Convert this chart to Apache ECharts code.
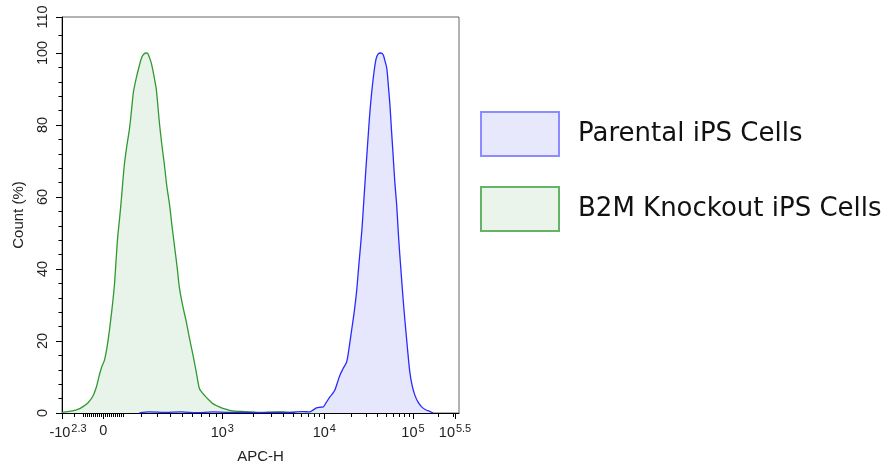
<!DOCTYPE html>
<html>
<head>
<meta charset="utf-8">
<script src="https://cdn.jsdelivr.net/npm/echarts@6/dist/echarts.min.js"></script>
<style>
  html, body { margin: 0; padding: 0; background: #fff; }
  #main { width: 892px; height: 469px; }
</style>
</head>
<body>
<div id="main"></div>
<script>
// x is in display channels (0..1000) of the biexponential APC-H scale
var parentalCh = [195, 220, 260, 300, 340, 380, 420, 460, 500, 540, 573, 590, 607, 624, 632, 641, 650, 658, 666, 675, 681, 687, 693, 700, 708, 717, 723, 729, 736, 742, 748, 755, 760, 765, 770, 775, 780, 786, 791, 796, 803, 809, 813, 818, 822, 826, 830, 834, 838, 843, 848, 854, 859, 864, 870, 876, 882, 889, 897, 906, 916, 927, 935];
var parentalPct = [0, 0.3, 0.2, 0.3, 0.1, 0.3, 0.2, 0.2, 0.1, 0.2, 0.1, 0.3, 0.4, 0.3, 0.8, 1.4, 1.6, 1.7, 3, 4.5, 5.3, 6.3, 8.2, 10.5, 12.3, 14.2, 18, 22.6, 28, 33.7, 41.5, 50.3, 58.5, 67, 75, 82.8, 89, 94.8, 98.3, 99.7, 100, 99.5, 98, 95.8, 91, 85.6, 78.5, 71.7, 64.7, 57.8, 48.5, 39.3, 32, 25.4, 18.2, 11.5, 7.6, 4.9, 3, 1.7, 0.9, 0.4, 0];

var knockoutCh = [0, 15, 27, 40, 52, 65, 77, 86, 94, 100, 107, 113, 119, 126, 132, 136, 140, 145, 149, 153, 157, 163, 170, 175, 180, 187, 195, 201, 207, 212, 216, 220, 225, 231, 237, 241, 245, 251, 258, 264, 271, 277, 283, 290, 296, 304, 313, 321, 330, 338, 346, 352, 359, 370, 380, 392, 405, 418, 430, 460, 500, 550, 600, 650];
var knockoutPct = [0.2, 0.4, 0.6, 1.0, 1.7, 2.8, 4.5, 7, 10.5, 12.8, 14.7, 18, 22.6, 29, 35.5, 42, 48.5, 54, 58.7, 64, 68.9, 74, 79, 84, 89.2, 93, 96.6, 98.8, 99.8, 100, 99.9, 98.8, 97.2, 94, 90.3, 86, 81, 75, 68.9, 63, 57.8, 52, 46.7, 40.5, 34.6, 29.8, 25.4, 20.8, 16.1, 11.5, 6.8, 5.8, 4.9, 3.6, 2.6, 1.9, 1.3, 0.9, 0.6, 0.4, 0.2, 0.3, 0.1, 0];

// major ticks of the x axis
var majorCh = [0, 104.2, 403.7, 660.6, 884, 990];
var majorBase = ['-10', '0', '10', '10', '10', '10'];
var majorExp = ['2.3', '', '3', '4', '5', '5.5'];

// minor ticks, in APC-H units
var minorValues = [-150, -100, -90, -80, -70, -60, -50, -40, -30, -20, -10,
  10, 20, 30, 40, 50, 60, 70, 80, 90, 100, 200, 300, 400, 500, 600, 700, 800, 900,
  2000, 3000, 4000, 5000, 6000, 7000, 8000, 9000,
  20000, 30000, 40000, 50000, 60000, 70000, 80000, 90000, 200000, 300000];

var yLabels = [0, 20, 40, 60, 80, 100, 110];
var yMinor = [4, 8, 12, 16, 24, 28, 32, 36, 44, 48, 52, 56, 64, 68, 72, 76, 84, 88, 92, 96, 105];

var decades = [[1e3, 403.7], [1e4, 660.6], [1e5, 884], [Math.pow(10, 5.5), 990]];
function toChannel(v) {
  if (v < 1000) return 104.2 + 161.3 * Math.asinh(v / 320);
  for (var i = 0; i < decades.length - 1; i++) {
    var a = decades[i], b = decades[i + 1];
    if (v <= b[0] || i === decades.length - 2) {
      var t = Math.log10(v / a[0]) / Math.log10(b[0] / a[0]);
      return a[1] + (b[1] - a[1]) * t;
    }
  }
}
var minorCh = minorValues.map(toChannel);

function pairs(xs, ys) {
  return xs.map(function (x, i) { return [x, ys[i]]; });
}

var myChart = echarts.init(document.getElementById('main'));

var labelFont = 'Liberation Sans';

var option = {
  animation: false,
  backgroundColor: '#fff',
  grid: {
    left: 62, right: 433, top: 17, bottom: 55,
    show: true, borderColor: '#666', borderWidth: 1
  },
  legend: {
    orient: 'vertical',
    left: 480, top: 111,
    itemWidth: 78, itemHeight: 44, itemGap: 29,
    selectedMode: false,
    padding: 0,
    textStyle: {
      fontFamily: 'DejaVu Sans', fontSize: 26, color: '#111',
      padding: [0, 0, 0, 14]
    },
    data: [
      { name: 'Parental iPS Cells', icon: 'rect',
        itemStyle: { color: '#e8e8fd', borderColor: '#8c8cff', borderWidth: 2 } },
      { name: 'B2M Knockout iPS Cells', icon: 'rect',
        itemStyle: { color: '#eaf4eb', borderColor: '#66b266', borderWidth: 2 } }
    ]
  },
  xAxis: [{
    type: 'value', min: 0, max: 1000,
    name: 'APC-H', nameLocation: 'middle', nameGap: 36,
    nameTextStyle: { fontFamily: labelFont, fontSize: 15, color: '#222' },
    axisLine: { lineStyle: { color: '#000', width: 1 } },
    axisTick: { customValues: majorCh, length: 6, lineStyle: { color: '#000' } },
    splitLine: { show: false },
    axisLabel: {
      customValues: majorCh,
      margin: 10,
      formatter: function (val) {
        var i = majorCh.indexOf(val);
        if (i < 0) return '';
        var base = i === 0 ? '{n|' + majorBase[i] + '}' : '{b|' + majorBase[i] + '}';
        return base + (majorExp[i] ? '{s|' + majorExp[i] + '}' : '');
      },
      rich: {
        b: { fontFamily: labelFont, fontSize: 14.5, color: '#222' },
        n: { fontFamily: labelFont, fontSize: 14.5, color: '#222', padding: [0, 0, 0, 12] },
        s: { fontFamily: labelFont, fontSize: 11, color: '#222', padding: [0, 0, 8, 1] }
      }
    }
  }, {
    type: 'value', min: 0, max: 1000, position: 'bottom', offset: 0,
    axisLine: { show: false },
    axisLabel: { show: false },
    splitLine: { show: false },
    axisTick: { customValues: minorCh, length: 4, lineStyle: { color: '#000' } }
  }],
  yAxis: [{
    type: 'value', min: 0, max: 110,
    name: 'Count (%)', nameLocation: 'middle', nameGap: 36,
    nameTextStyle: { fontFamily: labelFont, fontSize: 15, color: '#222' },
    axisLine: { show: true, lineStyle: { color: '#000', width: 1 } },
    axisTick: { customValues: yLabels, length: 6, lineStyle: { color: '#000' } },
    splitLine: { show: false },
    axisLabel: {
      customValues: yLabels,
      rotate: 90, margin: 12,
      fontFamily: labelFont, fontSize: 14.5, color: '#222'
    }
  }, {
    type: 'value', min: 0, max: 110, position: 'left', offset: 0,
    axisLine: { show: false },
    axisLabel: { show: false },
    splitLine: { show: false },
    axisTick: { customValues: yMinor, length: 3.5, lineStyle: { color: '#000' } }
  }],
  series: [{
    name: 'B2M Knockout iPS Cells',
    type: 'line',
    smooth: 0.3,
    showSymbol: false,
    data: pairs(knockoutCh, knockoutPct),
    lineStyle: { color: '#2f9a2f', width: 1.3 },
    itemStyle: { color: '#2f9a2f' },
    areaStyle: { color: '#e8f3e9', opacity: 1 },
    z: 2
  }, {
    name: 'Parental iPS Cells',
    type: 'line',
    smooth: 0.3,
    showSymbol: false,
    data: pairs(parentalCh, parentalPct),
    lineStyle: { color: '#2a2aff', width: 1.3 },
    itemStyle: { color: '#2a2aff' },
    areaStyle: { color: '#e6e7fc', opacity: 1 },
    z: 3
  }]
};

myChart.setOption(option);
</script>
</body>
</html>
